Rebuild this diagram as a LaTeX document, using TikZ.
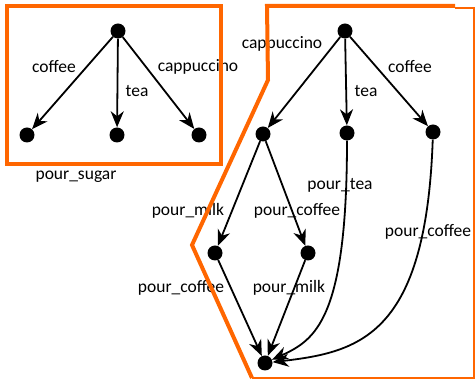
\documentclass[tikz,border=0pt]{standalone}
\usepackage{fontspec}
\setmainfont{Carlito}
\usetikzlibrary{arrows.meta}
\definecolor{frame}{RGB}{255,102,0}
\begin{document}
\begin{tikzpicture}[x=1pt,y=-1pt,
  state/.style={circle,fill=black,inner sep=0pt,minimum size=15pt},
  lbl/.style={inner sep=0pt,font=\fontsize{17.5}{20}\selectfont},
  trans/.style={line width=1.8pt,-{Stealth[length=16pt,width=13pt,inset=5pt]}},
  thickframe/.style={draw=frame,line width=4pt},
  thinframe/.style={draw=frame,line width=1.6pt}]
\useasboundingbox (0,0) rectangle (475,379);

% left tree
\node[state] (a0) at (118,31) {};
\node[state] (a1) at (27,135) {};
\node[state] (a2) at (117,135) {};
\node[state] (a3) at (199,135) {};
\draw[trans] (a0) -- (a1);
\draw[trans] (a0) -- (a2);
\draw[trans] (a0) -- (a3);
\node[lbl] (lcoffee) at (54,67) {coffee};
\node[lbl] (ltea) at (137,91) {tea};
\node[lbl] (lcap) at (198,67) {cappuccino};
\node[lbl] (lsugar) at (76,177) {pour\_sugar};

% right tree
\node[state] (b0) at (345,31) {};
\node[state] (b1) at (263,134) {};
\node[state] (b2) at (347,133) {};
\node[state] (b3) at (433,132) {};
\node[state] (b4) at (215,253) {};
\node[state] (b5) at (308,253) {};
\node[state] (b6) at (265,363) {};
\draw[trans] (b0) -- (b1);
\draw[trans] (b0) -- (b2);
\draw[trans] (b0) -- (b3);
\draw[trans] (b1) -- (b4);
\draw[trans] (b1) -- (b5);
\draw[trans] (b4) -- (b6);
\draw[trans] (b5) -- (b6);
\draw[trans] (b2) .. controls (347,320) and (315,340) .. (b6);
\draw[trans] (b3) .. controls (426,335) and (360,352) .. (b6);
\node[lbl] (rcap) at (282,44) {cappuccino};
\node[lbl] (rtea) at (366,91) {tea};
\node[lbl] (rcoffee) at (410,67) {coffee};
\node[lbl] (rptea) at (340,185) {pour\_tea};
\node[lbl] (rpmilk1) at (188,211) {pour\_milk};
\node[lbl] (rpcoffee1) at (297,211) {pour\_coffee};
\node[lbl] (rpcoffee3) at (428,232) {pour\_coffee};
\node[lbl] (rpcoffee2) at (181,288) {pour\_coffee};
\node[lbl] (rpmilk2) at (289,288) {pour\_milk};

% frames
\draw[thickframe] (7,6) rectangle (221,164);
\draw[thickframe] (455,6) -- (267,6) -- (268,80) -- (192,245) -- (252,378);
\draw[thinframe] (252,378) -- (474,378) -- (474,8) -- (455,8);
\end{tikzpicture}
\end{document}
